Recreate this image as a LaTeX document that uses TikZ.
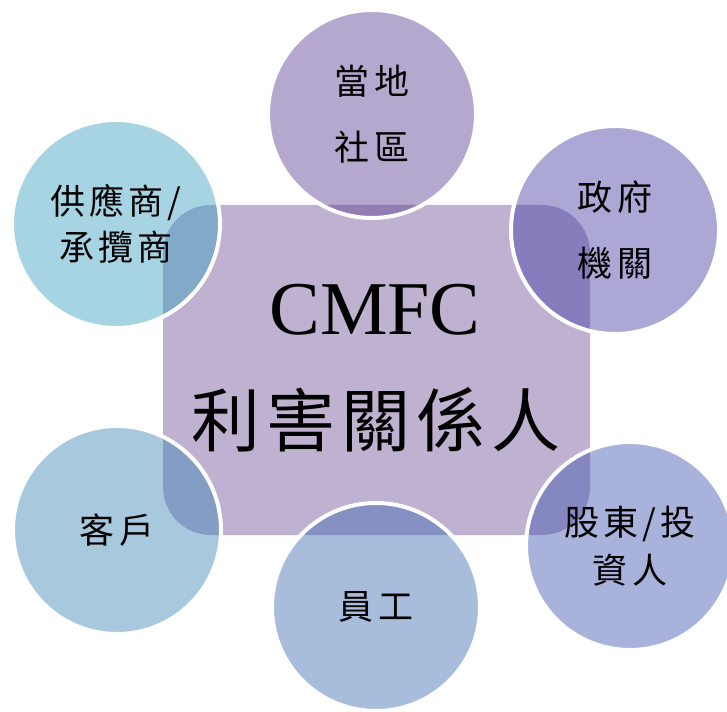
\documentclass[tikz,border=0pt]{standalone}
\usepackage{fontspec}
\setmainfont{Liberation Serif}
\newfontfamily\cjk[LetterSpace=12]{Noto Sans CJK TC}
\newfontfamily\cjkbig[LetterSpace=9]{Noto Sans CJK TC}
\definecolor{rectc}{RGB}{191,177,208}
\definecolor{cA}{RGB}{91,62,147}
\definecolor{cB}{RGB}{69,62,164}
\definecolor{cC}{RGB}{62,84,173}
\definecolor{cD}{RGB}{62,107,178}
\definecolor{cE}{RGB}{62,133,182}
\definecolor{cF}{RGB}{58,160,191}
\tikzset{
  stake/.style={circle, minimum size=208pt, inner sep=0pt, draw=white, line width=4pt,
    fill opacity=0.45, text opacity=1, align=center, text=black},
  small/.style={font=\cjk\fontsize{35}{#1}\selectfont},
  core/.style={rectangle, rounded corners=48pt, fill=rectc, minimum width=427pt, minimum height=330pt, inner sep=0pt}
}
\begin{document}
\begin{tikzpicture}[x=1pt,y=-1pt]
\useasboundingbox (0,0) rectangle (727,711);
\node[core] (core) at (376.5,370) {};
\node[font=\fontsize{76}{80}\selectfont] (cmfc) at (375,310) {CMFC};
\node[font=\cjkbig\fontsize{69}{70}\selectfont] (lhgx) at (376,420) {利害關係人};
\node[stake, fill=cA, small=66] (local) at (372,114) {當地\\社區};
\node[stake, fill=cB, small=66] (gov) at (615,230) {政府\\機關};
\node[stake, fill=cC, small=48] (share) at (630,546) {股東/投\\資人};
\node[stake, fill=cD, small=48] (staff) at (376,607) {員工};
\node[stake, fill=cE, small=48] (cust) at (117,530) {客戶};
\node[stake, fill=cF, small=46] (supp) at (116,224) {供應商/\\承攬商};
\end{tikzpicture}
\end{document}
